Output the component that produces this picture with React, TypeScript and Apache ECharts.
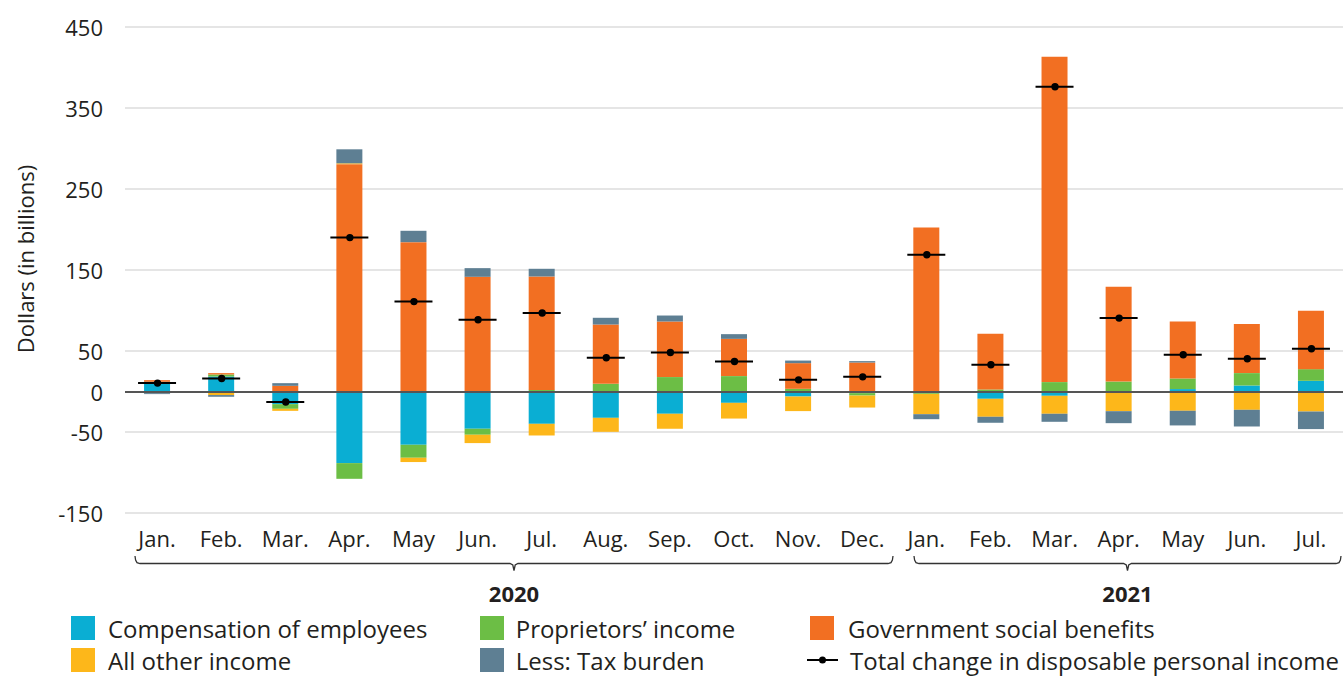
import React, { useEffect, useRef } from "react";
import * as echarts from "echarts";

const categories = [
  "2020 Jan.", "2020 Feb.", "2020 Mar.", "2020 Apr.", "2020 May", "2020 Jun.",
  "2020 Jul.", "2020 Aug.", "2020 Sep.", "2020 Oct.", "2020 Nov.", "2020 Dec.",
  "2021 Jan.", "2021 Feb.", "2021 Mar.", "2021 Apr.", "2021 May", "2021 Jun.", "2021 Jul.",
];
const monthLabels = [
  "Jan.", "Feb.", "Mar.", "Apr.", "May", "Jun.", "Jul.", "Aug.", "Sep.", "Oct.", "Nov.", "Dec.",
  "Jan.", "Feb.", "Mar.", "Apr.", "May", "Jun.", "Jul.",
];
const yearLabels = ["2020", "2021"];

const compensation = [12, 18.5, -15.6, -88.4, -65.8, -46, -39.9, -32.5, -27.5, -14, -6.2, -2, -2, -9, -5.3, -0.5, 3, 7.4, 13.2];
const proprietors = [0, 2.5, -5.8, -19.4, -16, -7.4, 2, 9.5, 17.8, 19, 3.3, -3, -1, 2.5, 11.6, 12.3, 13.1, 15.3, 14.4];
const government = [2, 1.7, 7, 280.7, 184.4, 141.6, 140, 73.2, 68.6, 46, 31.7, 35.8, 202.5, 68.8, 401.6, 117, 70.4, 60.5, 72];
const otherIncome = [-2, -4.4, -2.5, 1, -5.3, -10.3, -14.4, -17.3, -18.5, -19.4, -18, -14.8, -25, -22.2, -22.2, -23.8, -23.8, -22.6, -24.7];
const taxBurden = [-1.2, -2.1, 3.3, 17.3, 14, 10.7, 9.5, 8.3, 7.4, 5.8, 3.2, 1.7, -6.2, -7.4, -9.9, -14.8, -18.1, -20.6, -21.7];
const totalChange = [10.4, 16, -13, 190, 111, 88.5, 97, 41.6, 48.1, 37, 14.4, 18.1, 168.8, 33, 376.2, 90.6, 45.3, 40.4, 52.7];

const COLORS = {
  comp: "#0AAED3",
  prop: "#6CBE45",
  gov: "#F26F22",
  other: "#FDB71A",
  tax: "#5E7F93",
};

const TEXT = "#231F20";
const FONT = "'Open Sans', sans-serif";

const SQUARE_ICON = "path://M0,0L10,0L10,10L0,10Z";
const TOTAL_ICON =
  "path://M15.5,0L15.51,0L15.51,0.01Z M0,11L31,11L31,13L0,13Z M12,12A3.5,3.5 0 1 1 19,12A3.5,3.5 0 1 1 12,12Z M15.5,23.99L15.51,23.99L15.51,24Z";
const TOTAL_SYMBOL =
  "path://M0,2.7L38,2.7L38,4.7L0,4.7Z M15.8,3.7A3.7,3.7 0 1 1 23.2,3.7A3.7,3.7 0 1 1 15.8,3.7Z";

const NAMES = {
  comp: "Compensation of employees",
  prop: "Proprietors\u2019 income",
  gov: "Government social benefits",
  other: "All other income",
  tax: "Less: Tax burden",
  total: "Total change in disposable personal income",
};

function bracePoints(x1: number, x2: number) {
  const y = 563.5;
  const mid = (x1 + x2) / 2;
  return [
    [x1, 556],
    [x1 + 0.6, 560],
    [x1 + 2, 562.6],
    [x1 + 5, y],
    [mid - 4, y],
    [mid - 1.2, y + 1.5],
    [mid, y + 7],
    [mid + 1.2, y + 1.5],
    [mid + 4, y],
    [x2 - 5, y],
    [x2 - 2, 562.6],
    [x2 - 0.6, 560],
    [x2, 556],
  ];
}

export default function App() {
  const ref = useRef<HTMLDivElement>(null);

  useEffect(() => {
    if (!ref.current) return;
    const chart = echarts.init(ref.current, undefined, { renderer: "svg" });

    const barSeries = (name: string, data: number[], color: string, extra: any = {}) => ({
      name,
      type: "bar",
      stack: "total",
      barWidth: 26,
      data,
      itemStyle: { color },
      ...extra,
    });

    const legendItem = (
      name: string,
      icon: string,
      left: number,
      top: number,
      itemWidth: number,
      textPad: number
    ) => ({
      orient: "horizontal",
      left,
      top,
      itemWidth,
      itemHeight: 24,
      padding: 0,
      selectedMode: false,
      textStyle: {
        fontSize: 24,
        lineHeight: 24,
        color: TEXT,
        fontFamily: FONT,
        padding: [0, 0, 0, textPad],
      },
      data: [{ name, icon }],
    });

    const row1 = 616;
    const row2 = 648;

    chart.setOption({
      animation: false,
      textStyle: { fontFamily: FONT },
      grid: { left: 125, top: 27, width: 1229, height: 486, containLabel: false },
      xAxis: {
        type: "category",
        data: categories,
        axisLine: { show: false },
        axisTick: { show: false },
        splitLine: { show: false },
        axisLabel: {
          fontSize: 22,
          color: TEXT,
          margin: 14,
          interval: 0,
          formatter: (_v: string, i: number) => monthLabels[i],
        },
      },
      yAxis: [
        {
          type: "value",
          min: -150,
          max: 450,
          interval: 100,
          axisLine: { show: false },
          axisTick: { show: false },
          axisLabel: { fontSize: 22, color: TEXT, margin: 22 },
          splitLine: { lineStyle: { color: "#DCDCDC", width: 1.5 } },
        },
        {
          type: "value",
          position: "left",
          min: -150,
          max: 450,
          interval: 50,
          axisLine: { show: false },
          axisTick: { show: false },
          splitLine: { show: false },
          axisLabel: {
            fontSize: 22,
            color: TEXT,
            margin: 22,
            formatter: (v: number) => (v === 0 ? "0" : ""),
          },
        },
      ],
      legend: [
        legendItem(NAMES.comp, SQUARE_ICON, 71, row1, 24, 8),
        legendItem(NAMES.other, SQUARE_ICON, 71, row2, 24, 8),
        legendItem(NAMES.prop, SQUARE_ICON, 480, row1, 24, 6.7),
        legendItem(NAMES.tax, SQUARE_ICON, 480, row2, 24, 6.7),
        legendItem(NAMES.gov, SQUARE_ICON, 810, row1, 24, 9),
        legendItem(NAMES.total, TOTAL_ICON, 807, row2, 31, 7),
      ],
      series: [
        barSeries(NAMES.comp, compensation, COLORS.comp),
        barSeries(NAMES.prop, proprietors, COLORS.prop),
        barSeries(NAMES.gov, government, COLORS.gov),
        barSeries(NAMES.other, otherIncome, COLORS.other),
        barSeries(NAMES.tax, taxBurden, COLORS.tax, {
          markLine: {
            silent: true,
            symbol: "none",
            label: { show: false },
            lineStyle: { color: "#555555", width: 2, type: "solid" },
            data: [{ yAxis: 0 }],
          },
        }),
        {
          name: NAMES.total,
          type: "scatter",
          data: totalChange,
          symbol: TOTAL_SYMBOL,
          symbolSize: [38, 7.4],
          itemStyle: { color: "#000000", opacity: 1 },
          z: 5,
        },
      ],
      graphic: [
        {
          type: "text",
          x: 25,
          y: 259,
          rotation: Math.PI / 2,
          style: {
            text: "Dollars (in billions)",
            fontSize: 22,
            fill: TEXT,
            fontFamily: FONT,
            align: "center",
            verticalAlign: "middle",
          },
        },
        {
          type: "polyline",
          shape: { points: bracePoints(135, 893) },
          style: { stroke: "#333333", lineWidth: 1.3, fill: null },
        },
        {
          type: "polyline",
          shape: { points: bracePoints(914, 1341) },
          style: { stroke: "#333333", lineWidth: 1.3, fill: null },
        },
        {
          type: "text",
          x: 514,
          y: 593,
          style: {
            text: yearLabels[0],
            fontSize: 22,
            fontWeight: "bold",
            fill: TEXT,
            fontFamily: FONT,
            align: "center",
            verticalAlign: "middle",
          },
        },
        {
          type: "text",
          x: 1127.5,
          y: 593,
          style: {
            text: yearLabels[1],
            fontSize: 22,
            fontWeight: "bold",
            fill: TEXT,
            fontFamily: FONT,
            align: "center",
            verticalAlign: "middle",
          },
        },
      ],
    });

    return () => chart.dispose();
  }, []);

  return (
    <div
      ref={ref}
      style={{ position: "fixed", left: 0, top: 0, width: 1343, height: 679, background: "#ffffff" }}
    />
  );
}
